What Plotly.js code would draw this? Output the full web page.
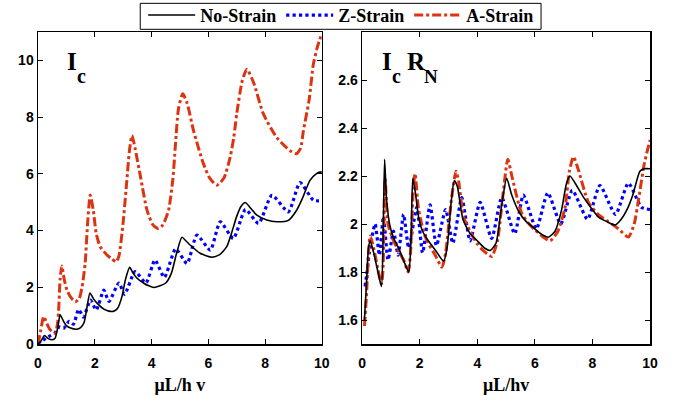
<!DOCTYPE html>
<html>
<head>
<meta charset="utf-8">
<script src="https://cdn.plot.ly/plotly-3.0.1.min.js"></script>
<style>html,body{margin:0;padding:0;background:#fff;}#chart{width:688px;height:403px;}</style>
</head>
<body>
<div id="chart"></div>
<script>
// ---------- Left panel: Ic ----------
const xNoL = [0,0.1,0.23,0.35,0.5,0.6,0.7,0.78,0.9,1.0,1.15,1.36,1.5,1.62,1.73,1.83,1.95,2.08,2.32,2.5,2.65,2.8,2.96,3.08,3.23,3.35,3.49,3.73,3.9,4.08,4.3,4.5,4.7,4.88,5.07,5.2,5.36,5.71,6.13,6.4,6.65,6.8,7.0,7.15,7.3,7.5,7.71,8.06,8.41,8.82,9.1,9.3,9.58,9.8,9.93,10];
const yNoL = [0,0.1,0.3,0.2,0.15,0.2,0.6,1.03,0.8,0.65,0.56,0.52,0.58,0.75,1.32,1.8,1.6,1.44,1.23,1.16,1.15,1.25,1.68,2.27,2.7,2.5,2.32,2.14,2.05,1.99,2.05,2.15,2.5,3.19,3.76,3.65,3.49,3.2,3.06,3.15,3.43,3.85,4.5,4.85,4.99,4.78,4.54,4.37,4.31,4.36,4.7,5.1,5.77,6.0,6.06,6.07];

const xZL = [0,0.1,0.2,0.3,0.45,0.6,0.75,0.9,1.1,1.25,1.43,1.6,1.85,2.05,2.32,2.5,2.85,3.05,3.42,3.8,4.12,4.45,4.85,5.25,5.6,6.07,6.42,6.88,7.31,7.77,8.24,8.82,9.23,9.7,10];
const yZL = [0,0.1,0.15,0.22,0.3,0.4,0.6,0.55,0.8,0.7,1.22,0.95,1.55,1.2,1.9,1.5,2.15,1.75,2.55,2.15,2.96,2.35,3.35,2.84,3.84,3.31,4.31,3.72,4.74,4.25,5.24,4.66,5.69,5.07,5.05];

const xAL = [0,0.1,0.2,0.3,0.43,0.6,0.7,0.78,0.84,0.92,1.02,1.15,1.31,1.45,1.55,1.66,1.75,1.84,1.95,2.05,2.19,2.43,2.6,2.75,2.85,3.0,3.13,3.22,3.31,3.42,3.61,3.84,4.05,4.24,4.4,4.6,4.75,4.84,4.95,5.1,5.25,5.48,5.83,6.05,6.3,6.55,6.77,6.9,7.0,7.2,7.36,7.6,7.94,8.41,8.88,9.11,9.25,9.35,9.55,9.7,9.85,10];
const yAL = [0,0.5,0.97,0.75,0.5,0.38,0.8,2.3,2.75,2.3,1.9,1.65,1.49,1.6,2.0,2.84,4.3,5.25,4.7,3.9,3.43,3.14,3.0,2.9,3.1,4.3,5.77,6.8,7.35,6.9,5.9,4.72,4.2,4.07,4.2,4.72,5.8,7.0,8.3,8.82,8.5,7.52,6.35,5.85,5.6,5.85,6.59,7.3,8.11,9.3,9.69,9.2,8.11,7.28,6.81,6.71,6.9,7.52,8.6,9.86,10.5,10.95];

// ---------- Right panel: Ic RN ----------
const xNoR = [0.08,0.15,0.22,0.28,0.4,0.55,0.67,0.73,0.78,0.85,0.97,1.1,1.3,1.5,1.62,1.7,1.76,1.85,1.96,2.1,2.3,2.55,2.83,2.95,3.1,3.2,3.3,3.5,3.75,4.0,4.25,4.45,4.65,4.85,5.02,5.2,5.45,5.7,5.9,6.2,6.47,6.7,6.93,7.1,7.22,7.4,7.7,8.0,8.2,8.5,8.79,9.0,9.2,9.4,9.65,9.8,10];
const yNoR = [1.6,1.75,1.9,1.93,1.88,1.8,1.74,1.95,2.27,2.1,1.99,1.94,1.89,1.83,1.8,1.95,2.19,2.13,2.03,1.97,1.93,1.89,1.845,1.9,2.1,2.18,2.16,2.02,1.96,1.93,1.9,1.89,1.92,2.08,2.19,2.12,2.05,2.01,1.99,1.96,1.945,1.97,2.06,2.17,2.2,2.17,2.11,2.06,2.03,2.01,1.996,2.02,2.06,2.12,2.22,2.23,2.23];

const xZR = [0.1,0.16,0.25,0.45,0.6,0.74,0.9,1.09,1.25,1.44,1.62,1.9,2.1,2.36,2.58,2.9,3.15,3.46,3.75,4.1,4.5,4.85,5.3,5.6,6.05,6.45,6.9,7.3,7.83,8.26,8.8,9.25,9.7,10];
const yZR = [1.74,1.79,1.88,2.0,1.87,2.03,1.85,1.97,1.87,2.04,1.9,2.07,1.88,2.08,1.91,2.06,1.92,2.11,1.93,2.09,1.94,2.11,1.96,2.12,1.98,2.13,2.0,2.14,2.02,2.16,2.04,2.17,2.07,2.06];

const xAR = [0.08,0.15,0.22,0.28,0.4,0.55,0.67,0.72,0.77,0.8,0.9,1.09,1.3,1.44,1.6,1.68,1.78,1.84,1.95,2.07,2.25,2.54,2.77,2.9,3.1,3.26,3.35,3.52,3.75,3.98,4.2,4.5,4.7,4.9,5.06,5.2,5.54,5.8,6.01,6.3,6.53,6.8,7.05,7.2,7.34,7.5,7.86,8.2,8.55,8.9,9.25,9.45,9.6,9.8,10];
const yAR = [1.575,1.7,1.88,1.95,1.9,1.81,1.75,1.8,2.1,2.19,2.0,1.93,1.88,1.85,1.8,1.88,2.15,2.21,2.07,2.0,1.93,1.87,1.82,1.88,2.1,2.22,2.18,2.03,1.97,1.92,1.89,1.865,1.93,2.13,2.27,2.2,2.045,2.0,1.975,1.945,1.93,1.97,2.07,2.22,2.28,2.23,2.09,2.04,2.01,1.98,1.946,2.0,2.1,2.25,2.35];

const names = ['No-Strain','Z-Strain','A-Strain'];
const xTicks = [0,2,4,6,8,10];
const yTicksL = [0,2,4,6,8,10];
const yTicksR = [1.6,1.8,2.0,2.2,2.4,2.6];
const yTickTextR = ['1.6','1.8','2','2.2','2.4','2.6'];

const BLACK = '#000000', BLUE = '#0000ff', RED = '#dd3311';
const W = 688, H = 403;
const ML = 37.7, MR = 38, MT = 31.7, MB = 58.7;
const PW = W - ML - MR, PH = H - MT - MB;
const px = v => (v - ML) / PW;
const py = v => (H - MB - v) / PH;

function tr(x, y, name, color, dash, width, xa, ya, show, rank) {
  return {x: x, y: y, name: name, type: 'scatter', mode: 'lines',
    line: {color: color, dash: dash, width: width, shape: 'spline', smoothing: 0.6},
    xaxis: xa, yaxis: ya, showlegend: show, legendrank: rank, hoverinfo: 'skip'};
}

const data = [
  tr(xZL, yZL, names[1], BLUE, 'dot', 3.2, 'x', 'y', true, 2),
  tr(xAL, yAL, names[2], RED, '9px,3px,3px,3px', 3, 'x', 'y', true, 3),
  tr(xNoL, yNoL, names[0], BLACK, 'solid', 1.6, 'x', 'y', true, 1),
  tr(xZR, yZR, names[1], BLUE, 'dot', 3.2, 'x2', 'y2', false, 2),
  tr(xAR, yAR, names[2], RED, '9px,3px,3px,3px', 3, 'x2', 'y2', false, 3),
  tr(xNoR, yNoR, names[0], BLACK, 'solid', 1.6, 'x2', 'y2', false, 1)
];

const SERIF = 'Liberation Serif';
const SANS = 'Liberation Sans';
const tickfont = {family: SANS, size: 14, color: '#000', weight: 'bold'};
const titlefont = {family: SERIF, size: 18, color: '#000', weight: 'bold'};
const base = {showline: true, linecolor: '#000', linewidth: 1.5, mirror: 'ticks', ticks: 'inside',
  ticklen: 5, tickwidth: 1, tickcolor: '#000', showgrid: false, zeroline: false, tickfont: tickfont, fixedrange: true};

function ann(t, x, y, size) {
  return {text: t, xref: 'paper', yref: 'paper', x: px(x), y: py(y), xanchor: 'left', yanchor: 'middle',
    showarrow: false, font: {family: SERIF, size: size, color: '#000', weight: 'bold'}};
}

const layout = {
  width: W, height: H,
  margin: {l: ML, r: MR, t: MT, b: MB, pad: 0, autoexpand: false},
  paper_bgcolor: '#fff', plot_bgcolor: '#fff',
  showlegend: true,
  legend: {orientation: 'h', x: px(341), xanchor: 'center', y: py(-3.5), yanchor: 'top',
    bgcolor: 'rgba(0,0,0,0)', borderwidth: 0,
    font: {family: SERIF, size: 18, color: '#000', weight: 'bold'},
    itemwidth: 47},
  shapes: [
    {type: 'rect', xref: 'paper', yref: 'paper', x0: px(140), x1: px(541), y0: py(29), y1: py(3),
      line: {color: '#000', width: 1}, fillcolor: '#fff', layer: 'above'}
  ],
  xaxis: Object.assign({}, base, {domain: [0, px(321.7)], range: [0, 10], tickvals: xTicks, anchor: 'y',
    ticklabelstandoff: 6, title: {text: 'μL/h v', font: titlefont, standoff: 8}}),
  yaxis: Object.assign({}, base, {domain: [0, 1], range: [0, 11], tickvals: yTicksL, anchor: 'x'}),
  xaxis2: Object.assign({}, base, {domain: [px(362), 1], range: [0, 10], tickvals: xTicks, anchor: 'y2',
    ticklabelstandoff: 6, title: {text: 'μL/hv', font: titlefont, standoff: 8}}),
  yaxis2: Object.assign({}, base, {domain: [0, 1], range: [1.5, 2.8], tickvals: yTicksR, ticktext: yTickTextR, anchor: 'x2'}),
  annotations: [
    ann('I', 65, 61.5, 25), ann('c', 74.5, 75.6, 20),
    ann('I', 380, 61.5, 25), ann('c', 390, 75.6, 20),
    ann('R', 405, 61.5, 25), ann('N', 421.5, 76.3, 19)
  ]
};

Plotly.newPlot('chart', data, layout, {staticPlot: true, displayModeBar: false});
</script>
</body>
</html>
